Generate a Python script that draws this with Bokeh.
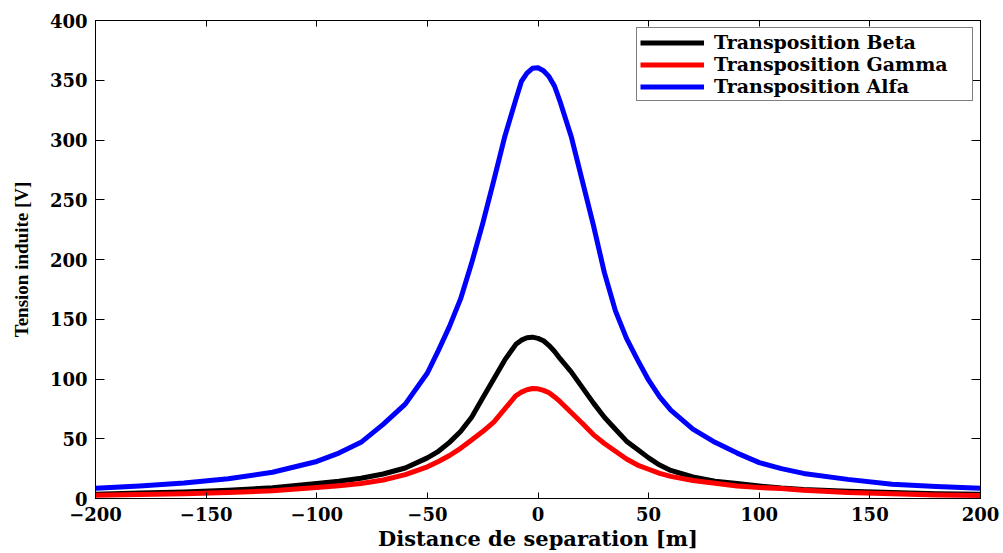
from bokeh.plotting import figure
from bokeh.models import Range1d, FixedTicker, LinearAxis, Legend, LegendItem
from bokeh.embed import file_html
from bokeh.resources import INLINE

# ---- data ----
x_m = [-200, -180, -160, -140, -120, -100, -90, -80, -70, -60, -50, -45, -40, -35, -30,
       -25, -20, -15, -10, -7.5, -5, -2.5, 0, 2.5, 5, 7.5, 10, 15, 20, 25, 30, 35, 40, 45,
       50, 55, 60, 70, 80, 90, 100, 110, 120, 140, 160, 180, 200]

beta = [3.5, 4.5, 5.5, 7, 9, 12.5, 14.5, 17, 20.5, 25.5, 34, 39.5, 47, 56, 68,
        84, 100, 116, 129, 132.5, 134.5, 135, 134, 132, 128, 123, 117, 106, 93, 80, 68, 58, 48, 41,
        34, 28, 23.5, 18, 14.5, 12.5, 10.5, 8.7, 7.5, 6, 5, 4, 3.5]

gamma = [2.7, 3.3, 4, 5, 6.5, 9.2, 10.7, 12.5, 15.5, 20, 26.5, 31, 36, 42, 49,
         56, 64, 75, 86, 89, 91, 92, 91.8, 90.5, 88.5, 85, 81, 72, 63, 53.5, 46, 39.5, 33, 28,
         24.5, 21, 18.5, 15, 12.8, 10.5, 9.2, 8.4, 7, 5, 4, 3, 2.5]

alfa = [8.5, 10.5, 13, 16.5, 22, 31, 38, 47, 62, 79, 105, 124, 144, 167, 197,
        230, 266, 303, 334, 349, 356, 360, 360.5, 358, 353, 345, 332, 303, 266, 229, 189, 157, 134, 116,
        99, 85, 74, 58, 47, 38, 30, 25, 21, 16, 12, 10, 8.5]

series_names = ["Transposition Beta", "Transposition Gamma", "Transposition Alfa"]
series_colors = ["#000000", "#ff0000", "#0000ff"]

x_ticks = [-200, -150, -100, -50, 0, 50, 100, 150, 200]
y_ticks = [0, 50, 100, 150, 200, 250, 300, 350, 400]

x_title = "Distance de separation [m]"
y_title = "Tension induite [V]"

# ---- figure ----
p = figure(width=1000, height=553, output_backend="svg", toolbar_location=None,
           x_range=Range1d(-200, 200), y_range=Range1d(0, 400),
           min_border_left=95, min_border_right=20, min_border_top=20, min_border_bottom=52)
p.xgrid.visible = False
p.ygrid.visible = False
p.outline_line_color = "black"
p.outline_line_width = 1
p.background_fill_color = "white"
p.border_fill_color = "white"

serif_w = "DejaVu Serif"

renderers = []
for data, name, col in zip([beta, gamma, alfa], series_names, series_colors):
    r = p.line(x_m, data, line_color=col, line_width=5, line_join="round")
    renderers.append((name, r))

# x axis
xa = p.xaxis[0]
xa.ticker = FixedTicker(ticks=x_ticks)
xa.major_tick_in = 6
xa.major_tick_out = 0
xa.minor_tick_line_color = None
xa.axis_line_color = "black"
xa.major_label_text_font = serif_w
xa.major_label_text_font_style = "bold"
xa.major_label_text_font_size = "18px"
xa.major_label_text_color = "black"
xa.major_label_standoff = 8
xa.axis_label = x_title
xa.axis_label_text_font = serif_w
xa.axis_label_text_font_style = "bold"
xa.axis_label_text_font_size = "21px"
xa.axis_label_text_color = "black"
xa.axis_label_standoff = 2

# y axis
ya = p.yaxis[0]
ya.ticker = FixedTicker(ticks=y_ticks)
ya.major_tick_in = 9
ya.major_tick_out = 0
ya.minor_tick_line_color = None
ya.axis_line_color = "black"
ya.major_label_text_font = serif_w
ya.major_label_text_font_style = "bold"
ya.major_label_text_font_size = "18px"
ya.major_label_text_color = "black"
ya.major_label_standoff = 8
ya.axis_label = y_title
ya.axis_label_text_font = "Liberation Serif"
ya.axis_label_text_font_style = "bold"
ya.axis_label_text_font_size = "19px"
ya.axis_label_text_color = "black"
ya.axis_label_standoff = 15

# mirrored ticks on top and right (box), no labels
top = LinearAxis(ticker=FixedTicker(ticks=x_ticks), major_tick_in=6, major_tick_out=0,
                 minor_tick_line_color=None, major_label_standoff=0, axis_line_color="black",
                 major_label_overrides={t: "" for t in x_ticks})
right = LinearAxis(ticker=FixedTicker(ticks=y_ticks), major_tick_in=9, major_tick_out=0,
                   minor_tick_line_color=None, major_label_standoff=0, axis_line_color="black",
                   major_label_overrides={t: "" for t in y_ticks})
p.add_layout(top, "above")
p.add_layout(right, "right")

legend = Legend(items=[LegendItem(label=n, renderers=[r]) for n, r in renderers],
                location="top_right")
legend.label_text_font = serif_w
legend.label_text_font_style = "bold"
legend.label_text_font_size = "19px"
legend.label_text_color = "black"
legend.border_line_color = "black"
legend.border_line_width = 1
legend.background_fill_color = "white"
legend.background_fill_alpha = 1
legend.glyph_width = 64
legend.glyph_height = 19
legend.label_height = 19
legend.label_width = 255
legend.label_standoff = 10
legend.spacing = 0
legend.padding = 3
legend.margin = 7
p.add_layout(legend)

open("out.html", "w").write(file_html(p, INLINE))
